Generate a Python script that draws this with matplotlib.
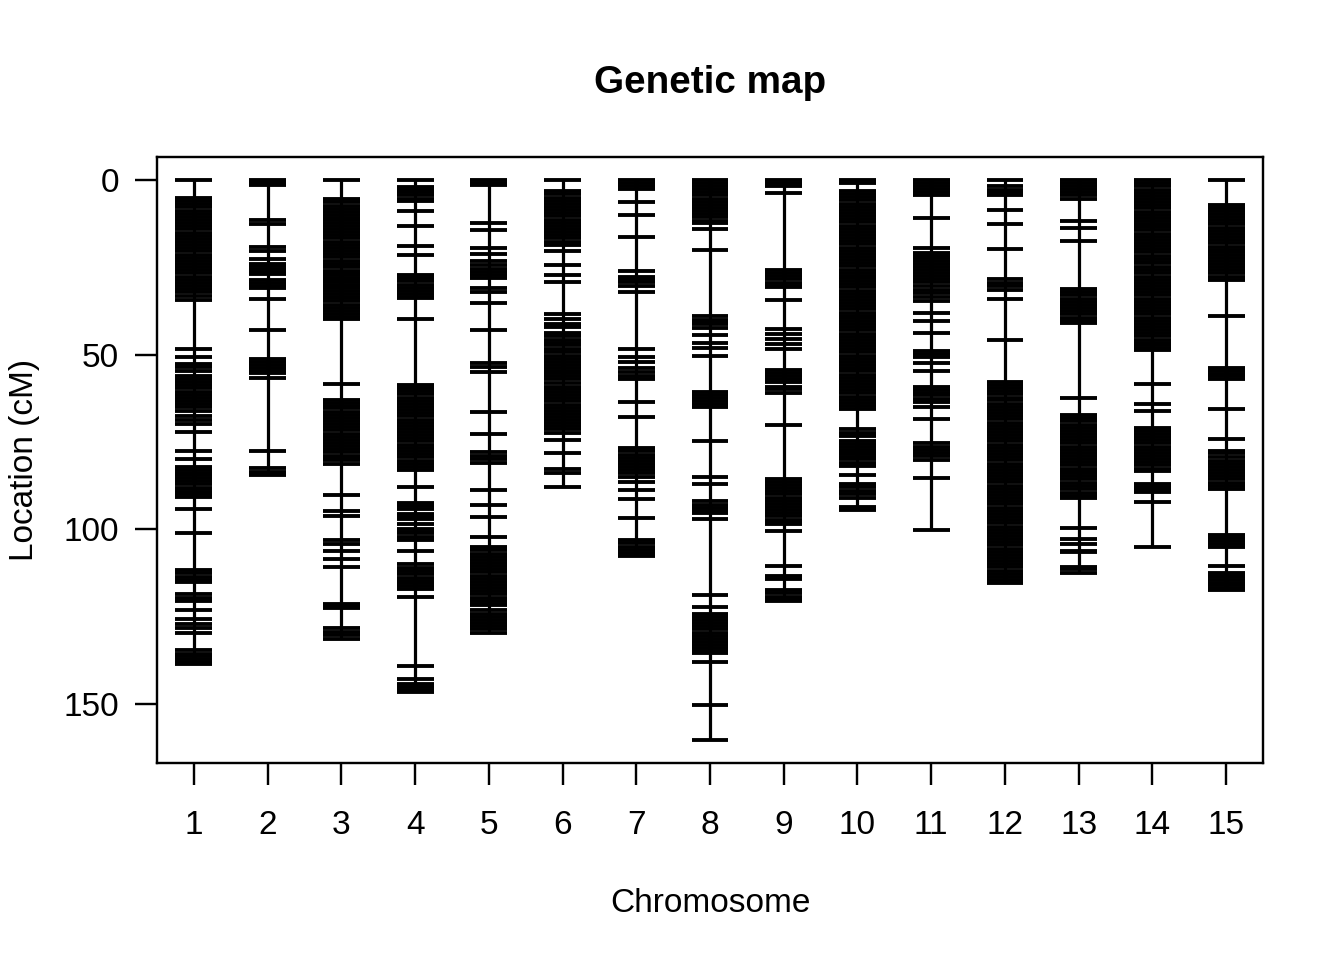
import matplotlib
matplotlib.use('Agg')
import matplotlib.pyplot as plt

plt.rcParams['font.family'] = ['Liberation Sans', 'DejaVu Sans']

# Marker positions (cM) per chromosome
chr1 = [0, 5.2, 6.1, 7.0, 7.9, 8.8, 9.7, 10.6, 11.5, 12.4, 13.3, 14.2, 15.1, 16.0, 16.9, 17.8, 18.7,
        19.6, 20.5, 21.4, 22.3, 23.2, 24.1, 25.0, 25.9, 26.8, 27.7, 28.6, 29.5, 30.4, 31.3, 32.2, 33.2,
        34.4, 48.4, 50.6, 52.7, 53.6, 54.8,
        56.1, 57.0, 57.9, 58.8, 59.7, 60.6, 61.5, 62.4, 63.3, 64.2, 65.1, 66.0,
        67.7, 68.7, 69.8, 72.0, 77.6, 80.0,
        82.1, 83.0, 84.0, 84.4, 85.3, 86.2, 87.1, 88.1, 88.5, 89.2, 90.0, 90.6,
        94.2, 101.0, 111.6, 112.4, 113.7, 114.4, 115.0,
        118.6, 119.6, 120.5, 123.1, 125.5, 127.1, 128.3, 129.6,
        134.5, 135.5, 136.3, 137.2, 138.0, 138.6]
chr2 = [0, 0.5, 1.0, 1.4, 11.5, 12.6, 19.1, 20.3, 22.7, 24.1, 24.8, 25.4, 26.5, 27.1, 28.6, 29.4,
        30.3, 31.0, 34.2, 42.9, 51.2, 52.1, 53.0, 53.9, 54.7, 55.3, 56.8, 77.6, 82.5, 83.5, 84.1, 84.5]
chr3 = [0, 5.6, 6.5, 7.4, 8.3, 9.2, 10.1, 11.0, 11.6, 12.3, 13.2, 14.1, 15.0, 15.9, 16.8, 17.7, 18.6,
        19.5, 20.4, 21.3, 22.2, 23.1, 24.0, 24.3, 25.1, 26.0, 26.8, 27.2, 28.0, 28.8, 29.2, 30.0, 30.5,
        31.0, 31.8, 32.6, 33.4, 33.9, 34.8, 35.7, 36.6, 37.5, 38.4, 39.2, 39.8,
        58.5, 62.9, 63.8, 64.7, 65.4, 66.3, 67.2, 68.1, 69.0, 69.9, 70.8, 71.7, 72.6, 73.5, 74.4, 75.3,
        76.2, 77.1, 78.0, 78.9, 79.6, 80.1, 81.4,
        90.2, 94.7, 96.3, 102.9, 104.2, 106.2, 108.4, 110.8, 121.2, 122.0, 122.4,
        128.3, 129.2, 130.2, 131.4]
chr4 = [0, 2.2, 2.9, 3.6, 4.4, 5.4, 6.2, 9.0, 13.3, 18.9, 21.5, 27.3, 28.1, 29.0, 30.0, 30.9, 31.8,
        32.7, 33.4, 33.9, 39.9,
        58.7, 59.6, 60.5, 61.4, 62.3, 63.2, 64.1, 65.0, 65.9, 66.8, 67.7, 68.6, 69.5, 70.4, 71.3, 72.2,
        73.1, 74.0, 74.6, 75.8, 76.7, 77.6, 78.5, 79.4, 80.3, 81.2, 82.1, 83.0,
        87.9, 92.5, 93.4, 94.2, 95.7, 96.5, 97.1, 98.4, 99.9, 100.6, 101.1, 102.2, 103.1, 106.3,
        110.0, 111.0, 111.9, 112.7, 113.9, 114.7, 115.3, 116.1, 117.1, 119.3,
        139.0, 142.7, 144.2, 145.0, 145.9, 146.6]
chr5 = [0, 0.8, 1.6, 12.3, 14.4, 19.5, 21.3, 23.1, 24.5, 25.4, 26.3, 27.2, 28.2, 31.0, 32.0, 35.3,
        43.1, 52.4, 53.5, 55.1, 66.3, 72.6, 77.9, 78.9, 79.9, 81.0, 88.8, 93.0, 96.4, 102.1,
        105.1, 106.0, 106.9, 107.8, 108.7, 109.6, 110.5, 111.4, 112.3, 113.2, 114.1, 115.0, 115.9,
        116.8, 117.7, 118.6, 119.5, 120.4, 121.3, 121.7,
        123.1, 124.1, 125.0, 125.9, 126.8, 127.7, 128.6, 129.7]
chr6 = [0, 3.3, 4.2, 5.1, 6.0, 6.9, 7.8, 8.7, 9.6, 10.5, 11.4, 12.3, 13.2, 14.1, 15.0, 15.9, 16.8,
        17.7, 18.8, 20.4, 24.5, 27.3, 29.2, 38.5, 39.9, 41.3, 42.0,
        43.9, 44.8, 45.7, 46.6, 47.4, 48.5, 49.4, 50.3, 51.2, 52.1, 53.0, 53.9, 54.8, 55.4,
        56.2, 57.1, 58.0, 59.2, 59.8, 60.7, 61.6, 62.5, 63.4, 64.3, 65.2, 66.0,
        66.9, 67.8, 68.7, 69.6, 70.5, 71.4, 72.5, 74.4, 78.2, 82.6, 83.9, 87.9]
chr7 = [0, 0.9, 1.8, 2.7, 6.4, 10.2, 16.4, 26.2, 27.8, 28.5, 29.2, 30.5, 32.0,
        48.5, 50.7, 52.2, 53.9, 54.9, 56.0, 57.0, 63.7, 67.8,
        76.8, 77.7, 78.6, 79.5, 80.4, 81.3, 82.2, 83.1, 84.0, 85.1, 86.5, 88.7, 91.2, 96.7,
        103.1, 104.0, 104.9, 105.8, 106.7, 107.6]
chr8 = [0, 0.9, 1.8, 2.7, 3.6, 4.5, 5.4, 6.3, 7.2, 8.1, 9.0, 9.9, 10.8, 11.7, 12.4, 14.2, 20.1,
        39.1, 40.0, 40.8, 41.4, 42.5, 44.3, 46.6, 48.1, 50.5,
        60.6, 61.5, 62.4, 63.3, 64.2, 64.9, 74.8, 85.0, 86.9,
        92.0, 92.9, 93.8, 94.7, 95.4, 96.9, 118.7, 122.1,
        124.1, 125.0, 125.9, 126.8, 127.7, 128.6, 129.5, 130.4, 131.3, 132.2, 133.1, 134.0, 134.8, 135.4,
        137.9, 150.3, 160.3]
chr9 = [0, 0.9, 1.9, 3.8, 25.8, 26.7, 27.6, 28.5, 29.4, 30.3, 30.8, 34.3,
        42.8, 44.0, 45.5, 46.9, 48.5, 54.5, 55.4, 56.2, 57.0, 57.8, 59.2, 59.8, 61.1, 70.1,
        85.5, 86.4, 87.3, 88.2, 89.1, 90.0, 90.9, 91.8, 92.7, 93.6, 94.5, 95.4, 96.3, 97.2, 98.0, 98.5,
        100.4, 110.6, 113.2, 114.3, 117.4, 118.3, 119.2, 120.0, 120.5]
chr10 = [0, 1.0, 3.1,
         4.1, 5.0, 5.9, 6.8, 7.7, 8.6, 9.5, 10.4, 11.3, 12.2, 13.1, 14.0, 14.9, 15.8, 16.7, 17.6, 18.5,
         19.4, 20.3, 21.2, 22.1, 23.0, 23.9, 24.8, 25.7, 26.7,
         27.6, 28.1, 29.0, 29.9, 30.8, 31.7, 32.6, 33.5, 34.4, 35.3, 36.2, 37.1, 38.0, 39.0,
         39.5, 40.4, 41.3, 42.2, 43.1, 44.0, 44.9, 45.8, 46.7, 47.6, 48.5, 49.4, 50.3, 51.2, 52.1, 53.0,
         53.9, 54.3, 54.8, 55.7, 56.6, 57.5, 58.4, 59.3, 60.2, 61.1, 62.0, 62.9, 63.8, 64.7, 65.7,
         71.4, 72.5, 73.3, 74.7, 75.5, 76.4, 77.3, 78.0, 78.5, 79.2, 80.0, 80.9, 81.9, 84.3,
         87.1, 88.0, 88.9, 89.8, 90.9, 93.6, 94.5]
chr11 = [0, 0.9, 1.8, 2.7, 3.6, 4.3, 10.9, 19.4, 20.9, 21.7, 22.5, 23.2, 24.0, 24.9, 25.8, 26.7,
         27.6, 28.5, 29.2, 30.5, 31.5, 32.4, 33.5, 34.6, 38.1, 40.4, 43.8, 49.0, 49.9, 50.7, 52.3, 54.8,
         59.3, 60.1, 60.9, 61.6, 62.6, 63.5, 64.9, 68.4,
         75.4, 76.3, 77.2, 78.1, 79.0, 80.1, 85.3, 100.2]
chr12 = [0, 1.9, 2.8, 3.6, 4.3, 8.7, 12.6, 19.8, 28.5, 29.4, 30.4, 31.4, 34.2, 45.8,
         57.8, 58.6, 59.5, 60.5, 61.3, 62.3, 63.1, 64.1, 65.0, 65.8, 66.8, 67.7, 68.5, 69.5, 70.4, 71.2,
         72.2, 73.1, 74.0, 74.8, 75.8, 76.7, 77.5, 78.5, 79.4, 80.2, 81.2, 82.1, 83.0, 83.8, 84.8, 85.7,
         86.5, 87.5, 88.4, 89.2, 90.2, 91.1, 92.0, 92.8, 93.8, 94.7, 95.5, 96.5, 97.4, 98.2, 99.2, 100.1,
         101.0, 101.8, 102.8, 103.7, 104.5, 105.5, 106.4, 107.2, 108.2, 109.1, 110.0, 110.8, 111.8,
         112.7, 113.5, 114.5, 115.4]
chr13 = [0, 0.9, 1.8, 2.7, 3.6, 4.5, 5.4, 11.9, 13.8, 17.5,
         31.3, 32.2, 33.1, 34.0, 34.9, 35.8, 36.7, 37.6, 38.5, 39.4, 40.5, 41.1, 62.4,
         67.3, 68.2, 69.1, 70.0, 70.9, 71.8, 72.7, 73.6, 74.5, 75.4, 76.3, 77.2, 78.1, 79.0, 79.9, 80.8,
         81.7, 82.6, 83.4, 83.9, 84.8, 85.7, 86.6, 87.5, 88.4,
         89.6, 90.5, 91.0, 99.6, 102.6, 104.2, 106.1, 106.6, 110.7, 111.2, 112.5]
chr14 = [0, 1.0, 1.9, 2.8, 3.7, 4.6, 5.5, 6.4, 7.3, 8.2, 9.1, 10.0, 10.9, 11.8, 12.7, 13.1,
         13.6, 14.5, 15.4, 16.3, 17.2, 18.1, 19.0, 19.9, 20.8, 21.7, 22.6, 23.5, 23.8,
         25.0, 25.9, 26.8, 27.7, 28.6, 29.5, 30.4, 31.3, 32.2, 33.1, 34.0, 34.9, 35.8, 36.7, 37.6, 38.5,
         39.4, 40.3, 41.2, 42.1, 43.0, 43.9, 44.8, 45.7, 46.6, 47.4, 48.0, 48.7,
         58.3, 64.2, 66.1,
         70.9, 71.8, 72.7, 73.6, 74.5, 75.4, 76.3, 77.2, 78.1, 79.0, 79.9, 80.8, 81.7, 82.6, 83.2,
         87.0, 87.8, 88.4, 89.3, 92.2, 105.1]
chr15 = [0, 7.1, 8.0, 8.9, 9.8, 10.7, 11.6, 12.4, 12.8, 13.7, 14.6, 15.5, 16.4, 17.3, 18.2, 19.1,
         20.0, 20.8, 21.4, 22.3, 23.2, 24.1, 25.0, 25.9, 26.8, 27.7, 28.8,
         39.0, 53.9, 54.8, 55.5, 56.1, 57.1, 65.6, 74.2, 77.5, 78.2,
         79.4, 80.3, 81.2, 82.1, 83.0, 83.9, 84.8, 85.7, 86.6, 87.5, 88.4,
         101.5, 102.4, 103.4, 104.2, 104.9, 110.4, 112.5, 113.2, 113.6, 114.4, 115.2, 116.0, 116.7, 117.3]

chromosomes = [chr1, chr2, chr3, chr4, chr5, chr6, chr7, chr8, chr9, chr10,
               chr11, chr12, chr13, chr14, chr15]
chrom_labels = [str(i) for i in range(1, 16)]
y_ticks = [0, 50, 100, 150]

fig = plt.figure(figsize=(7, 5), dpi=192)
ax = fig.add_axes([157 / 1344, 1 - 763 / 960, (1263 - 157) / 1344, (763 - 157) / 960])

for i, pos in enumerate(chromosomes, start=1):
    ax.vlines(i, 0, max(pos), color='black', lw=1.2, capstyle='butt')
    ax.hlines(pos, i - 0.25, i + 0.25, color='black', lw=1.45, capstyle='butt')

ax.set_xlim(0.5, 15.5)
ax.set_ylim(166.8, -6.5)
ax.set_xticks(range(1, 16))
ax.set_xticklabels(chrom_labels)
ax.set_yticks(y_ticks)
ax.set_yticklabels([str(v) for v in y_ticks])
ax.tick_params(axis='both', direction='out', length=8.2, width=0.9, labelsize=12.5, color='black')
ax.tick_params(axis='x', pad=9.5)
ax.tick_params(axis='y', pad=6)
for s in ax.spines.values():
    s.set_linewidth(0.9)

fig.text(710 / 1344, 1 - 83 / 960, 'Genetic map', ha='center', va='center',
         fontsize=14.5, fontweight='bold')
fig.text(710 / 1344, 1 - 903 / 960, 'Chromosome', ha='center', va='center', fontsize=12.5)
fig.text(25 / 1344, 1 - 460 / 960, 'Location (cM)', ha='center', va='center',
         fontsize=12.5, rotation=90)

fig.savefig('out.png', dpi=192)
